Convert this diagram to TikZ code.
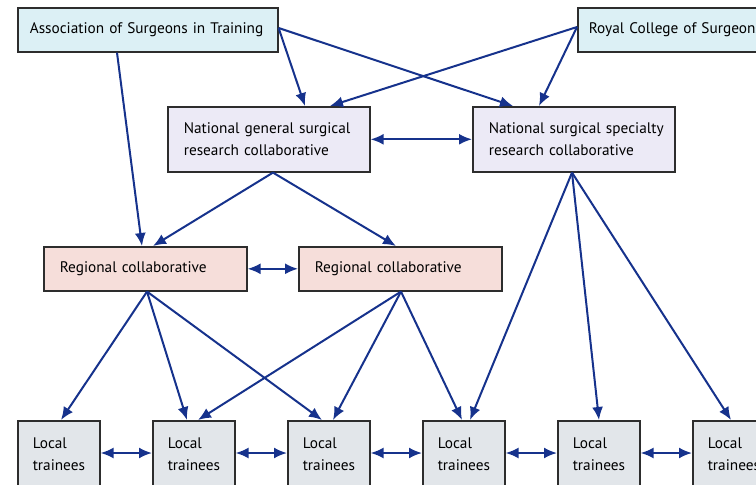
\documentclass[tikz,border=0pt]{standalone}
\usepackage{fontspec}
\setmainfont{PT Sans}
\usetikzlibrary{arrows.meta,calc}
\definecolor{arrowblue}{RGB}{22,50,140}
\definecolor{cyanfill}{RGB}{220,240,245}
\definecolor{lavfill}{RGB}{236,234,246}
\definecolor{pinkfill}{RGB}{246,222,218}
\definecolor{greyfill}{RGB}{226,230,234}
\definecolor{edgegrey}{RGB}{45,45,45}
\begin{document}
\begin{tikzpicture}[x=1pt,y=-1pt,
  box/.style={draw=edgegrey,line width=1.6pt,anchor=north west,inner xsep=0pt,inner ysep=0pt,font=\fontsize{15.3}{22}\selectfont},
  topbox/.style={box,fill=cyanfill,minimum height=44pt,text width=#1,align=left},
  natbox/.style={box,fill=lavfill,minimum height=65pt,text width=202pt,align=left},
  regbox/.style={box,fill=pinkfill,minimum height=44pt,text width=203pt,align=left},
  locbox/.style={box,fill=greyfill,minimum height=66pt,text width=82pt,align=left},
  tip/.style={},
  link/.style={draw=arrowblue,line width=2pt,-{Latex[length=13pt,width=11pt]}},
  dlink/.style={draw=arrowblue,line width=2pt,{Latex[length=13pt,width=11pt]}-{Latex[length=13pt,width=11pt]}}
]
\useasboundingbox (0,0) rectangle (756,485);
\clip (0,0) rectangle (756,485);
% boxes
\node[topbox=260pt] (ast) at (17,7) {\hspace*{12pt}Association of Surgeons in Training};
\node[topbox=205pt] (rcs) at (577,7) {\hspace*{11pt}Royal College of Surgeons};
\node[natbox] (ngs) at (167,106) {\hspace*{16pt}National general surgical\\\hspace*{16pt}research collaborative};
\node[natbox] (nss) at (472,106) {\hspace*{16pt}National surgical specialty\\\hspace*{16pt}research collaborative};
\node[regbox] (rg1) at (43,246) {\hspace*{16pt}Regional collaborative};
\node[regbox] (rg2) at (298,246) {\hspace*{16pt}Regional collaborative};
\foreach \i/\x in {1/17,2/152,3/287,4/422,5/557,6/692}{
  \node[locbox] (l\i) at (\x,420) {\hspace*{15pt}Local\\\hspace*{15pt}trainees};
}
% helper coordinates on box edges
\coordinate (astR) at ($(ast.north east)+(0,21)$);
\coordinate (rcsL) at ($(rcs.north west)+(0,20)$);
\coordinate (astB) at ($(ast.south west)+(100,0)$);
\coordinate (ngsB) at ($(ngs.south west)+(106,0)$);
\coordinate (nssB) at ($(nss.south west)+(100,0)$);
\coordinate (rg1B) at ($(rg1.south west)+(104,0)$);
\coordinate (rg2B) at ($(rg2.south west)+(103,0)$);
% top-level arrows
\draw[link] (astB) -- ($(rg1.north west)+(99,0)$);
\draw[link] (astR) -- ($(ngs.north west)+(138,0)$);
\draw[link] (astR) -- ($(nss.north west)+(41,0)$);
\draw[link] (rcsL) -- ($(ngs.north west)+(163,0)$);
\draw[link] (rcsL) -- ($(nss.north west)+(67,0)$);
\draw[dlink] (ngs.east) -- (nss.west);
% national to regional
\draw[link] (ngsB) -- ($(rg1.north west)+(110,0)$);
\draw[link] (ngsB) -- ($(rg2.north west)+(98,0)$);
\draw[dlink] (rg1.east) -- (rg2.west);
% national specialty to locals
\draw[link] (nssB) -- ($(l4.north west)+(48,0)$);
\draw[link] (nssB) -- ($(l5.north west)+(42,0)$);
\draw[link] (nssB) -- ($(l6.north west)+(39,0)$);
% regional 1 to locals
\draw[link] (rg1B) -- ($(l1.north west)+(44,0)$);
\draw[link] (rg1B) -- ($(l2.north west)+(35,0)$);
\draw[link] (rg1B) -- ($(l3.north west)+(35,0)$);
% regional 2 to locals
\draw[link] (rg2B) -- ($(l2.north west)+(46,0)$);
\draw[link] (rg2B) -- ($(l3.north west)+(46,0)$);
\draw[link] (rg2B) -- ($(l4.north west)+(40,0)$);
% local to local
\draw[dlink] ($(l1.north east)+(0,33)$) -- ($(l2.north west)+(0,33)$);
\draw[dlink] ($(l2.north east)+(0,33)$) -- ($(l3.north west)+(0,33)$);
\draw[dlink] ($(l3.north east)+(0,33)$) -- ($(l4.north west)+(0,33)$);
\draw[dlink] ($(l4.north east)+(0,33)$) -- ($(l5.north west)+(0,33)$);
\draw[dlink] ($(l5.north east)+(0,33)$) -- ($(l6.north west)+(0,33)$);
\end{tikzpicture}
\end{document}
